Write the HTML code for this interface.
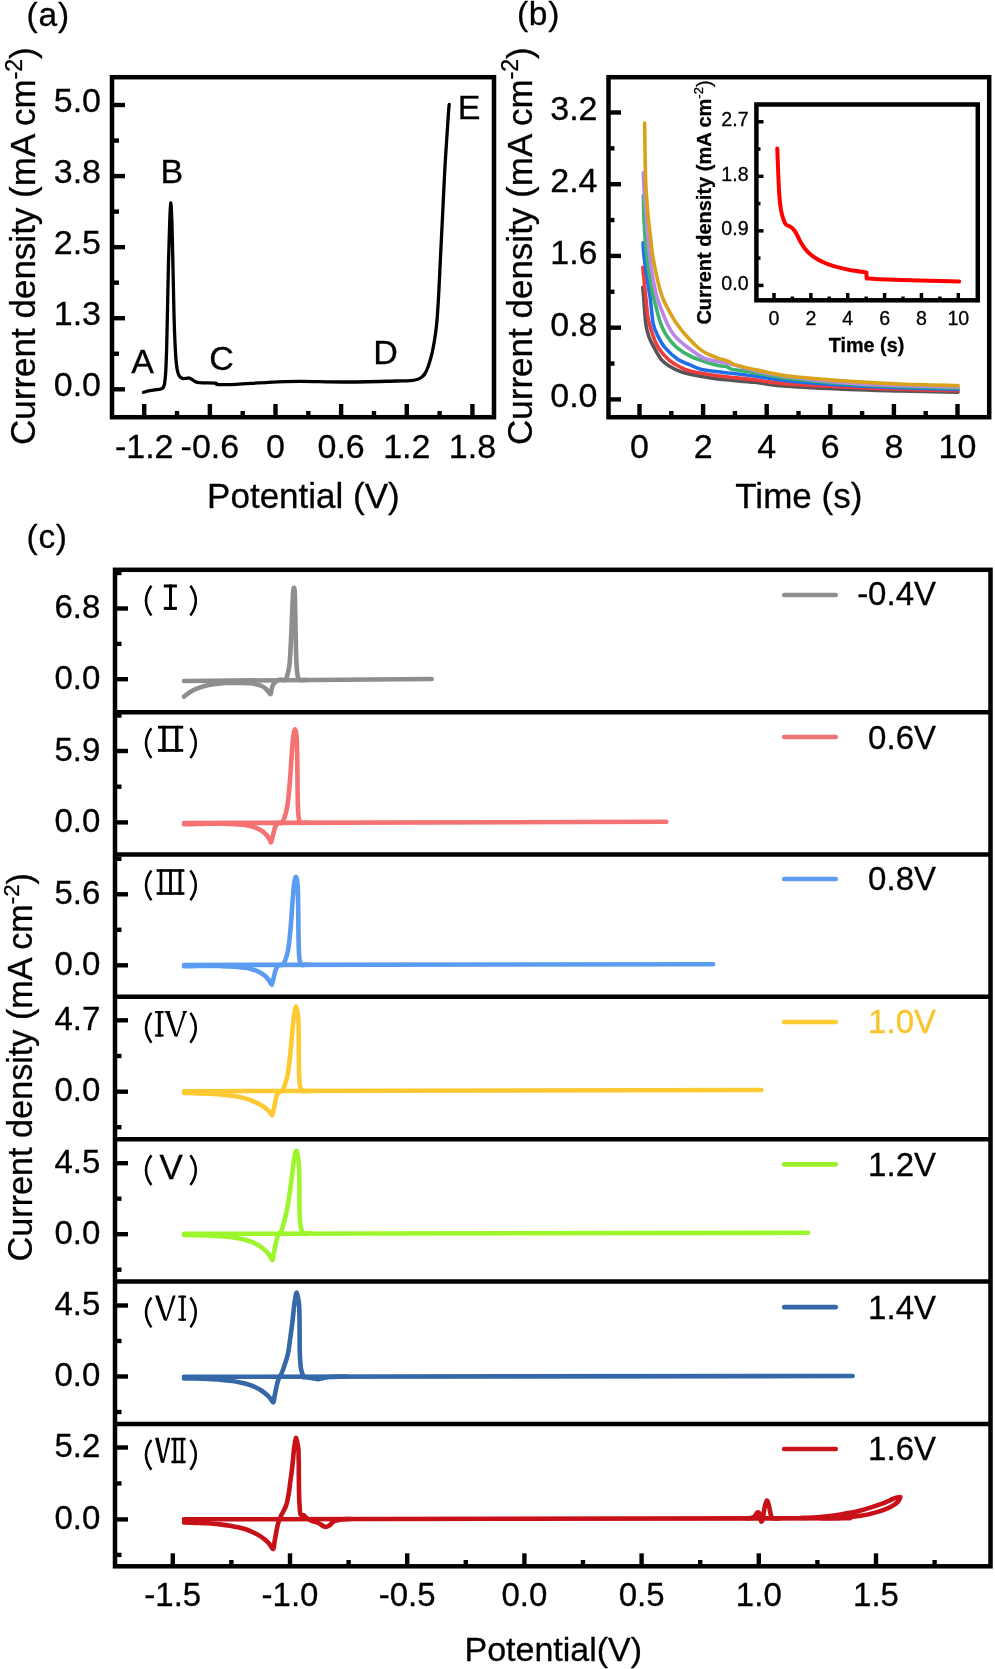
<!DOCTYPE html>
<html><head><meta charset="utf-8"><style>
html,body{margin:0;padding:0;background:#fff;overflow:hidden;}
svg{display:block;will-change:transform;}
text{-webkit-font-smoothing:antialiased;stroke:currentColor;stroke-width:0.3px;}
</style></head><body>
<svg width="995" height="1669" viewBox="0 0 995 1669">
<rect width="995" height="1669" fill="#fff"/>
<rect x="112" y="77.2" width="382" height="340.0" fill="none" stroke="#000" stroke-width="4.5"/>
<line x1="112" y1="389.30" x2="125" y2="389.30" stroke="#000" stroke-width="4.4"/>
<text x="101" y="396.20" text-anchor="end" font-family="Liberation Sans, sans-serif" font-size="34">0.0</text>
<line x1="112" y1="318.23" x2="125" y2="318.23" stroke="#000" stroke-width="4.4"/>
<text x="101" y="325.12" text-anchor="end" font-family="Liberation Sans, sans-serif" font-size="34">1.3</text>
<line x1="112" y1="247.15" x2="125" y2="247.15" stroke="#000" stroke-width="4.4"/>
<text x="101" y="254.05" text-anchor="end" font-family="Liberation Sans, sans-serif" font-size="34">2.5</text>
<line x1="112" y1="176.08" x2="125" y2="176.08" stroke="#000" stroke-width="4.4"/>
<text x="101" y="182.98" text-anchor="end" font-family="Liberation Sans, sans-serif" font-size="34">3.8</text>
<line x1="112" y1="105.00" x2="125" y2="105.00" stroke="#000" stroke-width="4.4"/>
<text x="101" y="111.90" text-anchor="end" font-family="Liberation Sans, sans-serif" font-size="34">5.0</text>
<line x1="112" y1="353.76" x2="119" y2="353.76" stroke="#000" stroke-width="4.4"/>
<line x1="112" y1="282.69" x2="119" y2="282.69" stroke="#000" stroke-width="4.4"/>
<line x1="112" y1="211.61" x2="119" y2="211.61" stroke="#000" stroke-width="4.4"/>
<line x1="112" y1="140.54" x2="119" y2="140.54" stroke="#000" stroke-width="4.4"/>
<line x1="144.22" y1="417.2" x2="144.22" y2="404" stroke="#000" stroke-width="4.4"/>
<text x="144.22" y="457.6" text-anchor="middle" font-family="Liberation Sans, sans-serif" font-size="34">-1.2</text>
<line x1="209.86" y1="417.2" x2="209.86" y2="404" stroke="#000" stroke-width="4.4"/>
<text x="209.86" y="457.6" text-anchor="middle" font-family="Liberation Sans, sans-serif" font-size="34">-0.6</text>
<line x1="275.50" y1="417.2" x2="275.50" y2="404" stroke="#000" stroke-width="4.4"/>
<text x="275.50" y="457.6" text-anchor="middle" font-family="Liberation Sans, sans-serif" font-size="34">0</text>
<line x1="341.14" y1="417.2" x2="341.14" y2="404" stroke="#000" stroke-width="4.4"/>
<text x="341.14" y="457.6" text-anchor="middle" font-family="Liberation Sans, sans-serif" font-size="34">0.6</text>
<line x1="406.78" y1="417.2" x2="406.78" y2="404" stroke="#000" stroke-width="4.4"/>
<text x="406.78" y="457.6" text-anchor="middle" font-family="Liberation Sans, sans-serif" font-size="34">1.2</text>
<line x1="472.42" y1="417.2" x2="472.42" y2="404" stroke="#000" stroke-width="4.4"/>
<text x="472.42" y="457.6" text-anchor="middle" font-family="Liberation Sans, sans-serif" font-size="34">1.8</text>
<line x1="177.04" y1="417.2" x2="177.04" y2="411" stroke="#000" stroke-width="4.4"/>
<line x1="242.68" y1="417.2" x2="242.68" y2="411" stroke="#000" stroke-width="4.4"/>
<line x1="308.32" y1="417.2" x2="308.32" y2="411" stroke="#000" stroke-width="4.4"/>
<line x1="373.96" y1="417.2" x2="373.96" y2="411" stroke="#000" stroke-width="4.4"/>
<line x1="439.60" y1="417.2" x2="439.60" y2="411" stroke="#000" stroke-width="4.4"/>
<text x="303.4" y="508.3" text-anchor="middle" font-family="Liberation Sans, sans-serif" font-size="35">Potential (V)</text>
<text transform="translate(35.4,246.1) rotate(-90)" text-anchor="middle" font-family="Liberation Sans, sans-serif" font-size="35">Current density (mA cm<tspan font-size="23" dy="-13.5">-2</tspan><tspan dy="13.5">)</tspan></text>
<text x="26.6" y="25.6" font-family="Liberation Sans, sans-serif" font-size="33.5" letter-spacing="0.75">(a)</text>
<text x="131.2" y="372.5" font-family="Liberation Sans, sans-serif" font-size="34">A</text>
<text x="160.5" y="182.7" font-family="Liberation Sans, sans-serif" font-size="34">B</text>
<text x="209.2" y="369.5" font-family="Liberation Sans, sans-serif" font-size="34">C</text>
<text x="373.2" y="364.3" font-family="Liberation Sans, sans-serif" font-size="34">D</text>
<text x="457.8" y="119.3" font-family="Liberation Sans, sans-serif" font-size="34">E</text>
<path d="M143.50,392.30 C144.52,392.03 147.35,391.15 149.60,390.70 C151.85,390.25 155.12,389.88 157.00,389.60 C158.88,389.32 159.87,389.35 160.90,389.00 C161.93,388.65 162.58,388.42 163.20,387.50 C163.82,386.58 164.18,386.05 164.60,383.50 C165.02,380.95 165.37,377.78 165.70,372.20 C166.03,366.62 166.30,360.37 166.60,350.00 C166.90,339.63 167.18,324.67 167.50,310.00 C167.82,295.33 168.15,276.17 168.50,262.00 C168.85,247.83 169.23,234.83 169.60,225.00 C169.97,215.17 170.32,203.50 170.70,203.00 C171.08,202.50 171.52,211.17 171.90,222.00 C172.28,232.83 172.65,252.50 173.00,268.00 C173.35,283.50 173.67,302.50 174.00,315.00 C174.33,327.50 174.63,335.17 175.00,343.00 C175.37,350.83 175.77,357.25 176.20,362.00 C176.63,366.75 177.05,369.13 177.60,371.50 C178.15,373.87 178.67,375.05 179.50,376.20 C180.33,377.35 181.42,378.05 182.60,378.40 C183.78,378.75 185.40,378.33 186.60,378.30 C187.80,378.27 188.45,377.70 189.80,378.20 C191.15,378.70 193.08,380.57 194.70,381.30 C196.32,382.03 196.02,382.30 199.50,382.60 C202.98,382.90 212.60,382.78 215.60,383.10 C218.60,383.42 214.02,384.30 217.50,384.50 C220.98,384.70 227.98,384.67 236.50,384.30 C245.02,383.93 258.02,382.78 268.60,382.30 C279.18,381.82 287.35,381.45 300.00,381.40 C312.65,381.35 328.37,382.07 344.50,382.00 C360.63,381.93 385.88,381.23 396.80,381.00 C407.72,380.77 406.63,380.85 410.00,380.60 C413.37,380.35 415.08,380.05 417.00,379.50 C418.92,378.95 420.17,378.30 421.50,377.30 C422.83,376.30 423.92,375.22 425.00,373.50 C426.08,371.78 427.08,369.42 428.00,367.00 C428.92,364.58 429.75,361.67 430.50,359.00 C431.25,356.33 431.88,353.83 432.50,351.00 C433.12,348.17 433.70,344.92 434.20,342.00 C434.70,339.08 435.12,336.25 435.50,333.50 C435.88,330.75 436.20,328.33 436.50,325.50 C436.80,322.67 437.05,319.75 437.30,316.50 C437.55,313.25 437.77,309.75 438.00,306.00 C438.23,302.25 438.48,298.00 438.70,294.00 C438.92,290.00 439.10,286.12 439.30,282.00 C439.50,277.88 439.58,275.80 439.90,269.30 C440.22,262.80 440.77,251.75 441.20,243.00 C441.63,234.25 442.07,225.63 442.50,216.80 C442.93,207.97 443.37,198.72 443.80,190.00 C444.23,181.28 444.60,173.17 445.10,164.50 C445.60,155.83 446.23,146.70 446.80,138.00 C447.37,129.30 448.10,117.88 448.50,112.30 C448.90,106.72 449.08,105.80 449.20,104.50" fill="none" stroke="#000" stroke-width="3.3" stroke-linejoin="round" stroke-linecap="round"/>
<rect x="608.5" y="77.2" width="380.70000000000005" height="340.0" fill="none" stroke="#000" stroke-width="4.5"/>
<line x1="608.5" y1="399.40" x2="621" y2="399.40" stroke="#000" stroke-width="4.4"/>
<text x="597.5" y="407.30" text-anchor="end" font-family="Liberation Sans, sans-serif" font-size="34">0.0</text>
<line x1="608.5" y1="327.67" x2="621" y2="327.67" stroke="#000" stroke-width="4.4"/>
<text x="597.5" y="335.57" text-anchor="end" font-family="Liberation Sans, sans-serif" font-size="34">0.8</text>
<line x1="608.5" y1="255.94" x2="621" y2="255.94" stroke="#000" stroke-width="4.4"/>
<text x="597.5" y="263.84" text-anchor="end" font-family="Liberation Sans, sans-serif" font-size="34">1.6</text>
<line x1="608.5" y1="184.22" x2="621" y2="184.22" stroke="#000" stroke-width="4.4"/>
<text x="597.5" y="192.12" text-anchor="end" font-family="Liberation Sans, sans-serif" font-size="34">2.4</text>
<line x1="608.5" y1="112.49" x2="621" y2="112.49" stroke="#000" stroke-width="4.4"/>
<text x="597.5" y="120.39" text-anchor="end" font-family="Liberation Sans, sans-serif" font-size="34">3.2</text>
<line x1="608.5" y1="363.54" x2="614.5" y2="363.54" stroke="#000" stroke-width="4.4"/>
<line x1="608.5" y1="291.81" x2="614.5" y2="291.81" stroke="#000" stroke-width="4.4"/>
<line x1="608.5" y1="220.08" x2="614.5" y2="220.08" stroke="#000" stroke-width="4.4"/>
<line x1="608.5" y1="148.35" x2="614.5" y2="148.35" stroke="#000" stroke-width="4.4"/>
<line x1="639.50" y1="417.2" x2="639.50" y2="404" stroke="#000" stroke-width="4.4"/>
<text x="639.50" y="458" text-anchor="middle" font-family="Liberation Sans, sans-serif" font-size="34">0</text>
<line x1="703.10" y1="417.2" x2="703.10" y2="404" stroke="#000" stroke-width="4.4"/>
<text x="703.10" y="458" text-anchor="middle" font-family="Liberation Sans, sans-serif" font-size="34">2</text>
<line x1="766.70" y1="417.2" x2="766.70" y2="404" stroke="#000" stroke-width="4.4"/>
<text x="766.70" y="458" text-anchor="middle" font-family="Liberation Sans, sans-serif" font-size="34">4</text>
<line x1="830.30" y1="417.2" x2="830.30" y2="404" stroke="#000" stroke-width="4.4"/>
<text x="830.30" y="458" text-anchor="middle" font-family="Liberation Sans, sans-serif" font-size="34">6</text>
<line x1="893.90" y1="417.2" x2="893.90" y2="404" stroke="#000" stroke-width="4.4"/>
<text x="893.90" y="458" text-anchor="middle" font-family="Liberation Sans, sans-serif" font-size="34">8</text>
<line x1="957.50" y1="417.2" x2="957.50" y2="404" stroke="#000" stroke-width="4.4"/>
<text x="957.50" y="458" text-anchor="middle" font-family="Liberation Sans, sans-serif" font-size="34">10</text>
<line x1="671.30" y1="417.2" x2="671.30" y2="411" stroke="#000" stroke-width="4.4"/>
<line x1="734.90" y1="417.2" x2="734.90" y2="411" stroke="#000" stroke-width="4.4"/>
<line x1="798.50" y1="417.2" x2="798.50" y2="411" stroke="#000" stroke-width="4.4"/>
<line x1="862.10" y1="417.2" x2="862.10" y2="411" stroke="#000" stroke-width="4.4"/>
<line x1="925.70" y1="417.2" x2="925.70" y2="411" stroke="#000" stroke-width="4.4"/>
<text x="798.8" y="508.3" text-anchor="middle" font-family="Liberation Sans, sans-serif" font-size="35">Time (s)</text>
<text transform="translate(531.8,246.1) rotate(-90)" text-anchor="middle" font-family="Liberation Sans, sans-serif" font-size="35">Current density (mA cm<tspan font-size="23" dy="-13.5">-2</tspan><tspan dy="13.5">)</tspan></text>
<text x="516.9" y="25.4" font-family="Liberation Sans, sans-serif" font-size="33.5" letter-spacing="0.8">(b)</text>
<path d="M642.80,287.40 C642.97,289.33 643.30,292.95 643.80,299.00 C644.30,305.05 644.93,317.37 645.80,323.70 C646.67,330.03 647.60,333.00 649.00,337.00 C650.40,341.00 652.15,343.93 654.20,347.70 C656.25,351.47 658.67,356.47 661.30,359.60 C663.93,362.73 666.80,364.50 670.00,366.50 C673.20,368.50 677.17,370.32 680.50,371.60 C683.83,372.88 683.75,372.97 690.00,374.20 C696.25,375.43 707.28,377.65 718.00,379.00 C728.72,380.35 742.88,381.08 754.30,382.30 C765.72,383.52 770.68,385.10 786.50,386.30 C802.32,387.50 830.28,388.72 849.20,389.50 C868.12,390.28 881.87,390.53 900.00,391.00 C918.13,391.47 948.33,392.08 958.00,392.30" fill="none" stroke="#555555" stroke-width="3.6" stroke-linejoin="round" stroke-linecap="round"/>
<path d="M642.80,267.40 C643.17,271.13 644.42,284.03 645.00,289.80 C645.58,295.57 645.80,297.30 646.30,302.00 C646.80,306.70 646.88,312.38 648.00,318.00 C649.12,323.62 651.27,330.75 653.00,335.70 C654.73,340.65 655.82,343.72 658.40,347.70 C660.98,351.68 664.90,356.38 668.50,359.60 C672.10,362.82 676.20,365.07 680.00,367.00 C683.80,368.93 684.97,369.73 691.30,371.20 C697.63,372.67 707.50,374.37 718.00,375.80 C728.50,377.23 742.88,378.45 754.30,379.80 C765.72,381.15 770.68,382.67 786.50,383.90 C802.32,385.13 830.28,386.30 849.20,387.20 C868.12,388.10 881.87,388.70 900.00,389.30 C918.13,389.90 948.33,390.55 958.00,390.80" fill="none" stroke="#EE3B3B" stroke-width="3.6" stroke-linejoin="round" stroke-linecap="round"/>
<path d="M643.10,242.90 C643.22,244.75 643.28,249.15 643.80,254.00 C644.32,258.85 645.35,266.03 646.20,272.00 C647.05,277.97 648.20,285.30 648.90,289.80 C649.60,294.30 649.68,293.35 650.40,299.00 C651.12,304.65 651.97,317.58 653.20,323.70 C654.43,329.82 655.83,331.70 657.80,335.70 C659.77,339.70 661.62,343.72 665.00,347.70 C668.38,351.68 673.93,356.75 678.10,359.60 C682.27,362.45 686.20,363.20 690.00,364.80 C693.80,366.40 696.23,368.03 700.90,369.20 C705.57,370.37 709.10,370.67 718.00,371.80 C726.90,372.93 742.88,374.53 754.30,376.00 C765.72,377.47 770.68,379.02 786.50,380.60 C802.32,382.18 830.28,384.30 849.20,385.50 C868.12,386.70 881.87,387.13 900.00,387.80 C918.13,388.47 948.33,389.22 958.00,389.50" fill="none" stroke="#1F6FEB" stroke-width="3.6" stroke-linejoin="round" stroke-linecap="round"/>
<path d="M643.40,195.60 C643.47,198.83 643.53,208.27 643.80,215.00 C644.07,221.73 644.55,229.50 645.00,236.00 C645.45,242.50 645.85,248.00 646.50,254.00 C647.15,260.00 648.00,266.03 648.90,272.00 C649.80,277.97 651.05,285.30 651.90,289.80 C652.75,294.30 652.53,293.35 654.00,299.00 C655.47,304.65 658.58,317.58 660.70,323.70 C662.82,329.82 664.00,331.70 666.70,335.70 C669.40,339.70 672.85,344.23 676.90,347.70 C680.95,351.17 685.48,353.90 691.00,356.50 C696.52,359.10 705.50,361.82 710.00,363.30 C714.50,364.78 715.67,364.92 718.00,365.40 C720.33,365.88 722.42,365.93 724.00,366.20 C725.58,366.47 726.33,366.53 727.50,367.00 C728.67,367.47 729.75,368.53 731.00,369.00 C732.25,369.47 731.12,369.20 735.00,369.80 C738.88,370.40 745.72,371.20 754.30,372.60 C762.88,374.00 770.68,376.30 786.50,378.20 C802.32,380.10 830.28,382.62 849.20,384.00 C868.12,385.38 881.87,385.80 900.00,386.50 C918.13,387.20 948.33,387.92 958.00,388.20" fill="none" stroke="#3DB36B" stroke-width="3.6" stroke-linejoin="round" stroke-linecap="round"/>
<path d="M643.40,172.90 C643.50,175.42 643.73,183.48 644.00,188.00 C644.27,192.52 644.50,193.50 645.00,200.00 C645.50,206.50 646.25,218.00 647.00,227.00 C647.75,236.00 648.68,246.50 649.50,254.00 C650.32,261.50 650.95,266.03 651.90,272.00 C652.85,277.97 654.22,285.17 655.20,289.80 C656.18,294.43 655.78,294.15 657.80,299.80 C659.82,305.45 664.52,317.72 667.30,323.70 C670.08,329.68 671.30,331.90 674.50,335.70 C677.70,339.50 681.50,342.70 686.50,346.50 C691.50,350.30 699.25,356.02 704.50,358.50 C709.75,360.98 713.98,360.57 718.00,361.40 C722.02,362.23 724.93,362.65 728.60,363.50 C732.27,364.35 735.72,365.33 740.00,366.50 C744.28,367.67 746.55,368.83 754.30,370.50 C762.05,372.17 770.68,374.38 786.50,376.50 C802.32,378.62 830.28,381.70 849.20,383.20 C868.12,384.70 881.87,384.87 900.00,385.50 C918.13,386.13 948.33,386.75 958.00,387.00" fill="none" stroke="#B987E8" stroke-width="3.6" stroke-linejoin="round" stroke-linecap="round"/>
<path d="M644.60,123.00 C644.67,127.50 644.83,140.50 645.00,150.00 C645.17,159.50 645.30,171.67 645.60,180.00 C645.90,188.33 646.35,193.67 646.80,200.00 C647.25,206.33 647.70,212.00 648.30,218.00 C648.90,224.00 649.70,230.00 650.40,236.00 C651.10,242.00 651.60,248.00 652.50,254.00 C653.40,260.00 654.55,266.03 655.80,272.00 C657.05,277.97 658.72,285.13 660.00,289.80 C661.28,294.47 661.88,296.30 663.50,300.00 C665.12,303.70 667.47,308.00 669.70,312.00 C671.93,316.00 674.10,320.00 676.90,324.00 C679.70,328.00 682.90,332.00 686.50,336.00 C690.10,340.00 695.10,345.05 698.50,348.00 C701.90,350.95 703.65,352.02 706.90,353.70 C710.15,355.38 715.48,357.17 718.00,358.10 C720.52,359.03 720.23,358.75 722.00,359.30 C723.77,359.85 726.43,360.52 728.60,361.40 C730.77,362.28 730.72,363.27 735.00,364.60 C739.28,365.93 745.72,367.53 754.30,369.40 C762.88,371.27 775.55,374.20 786.50,375.80 C797.45,377.40 809.55,378.07 820.00,379.00 C830.45,379.93 835.87,380.57 849.20,381.40 C862.53,382.23 881.87,383.30 900.00,384.00 C918.13,384.70 948.33,385.33 958.00,385.60" fill="none" stroke="#D9A21B" stroke-width="3.6" stroke-linejoin="round" stroke-linecap="round"/>
<rect x="756.4" y="104.5" width="221.39999999999998" height="195.8" fill="#fff" stroke="#000" stroke-width="4.5"/>
<line x1="756.4" y1="285.40" x2="763.5" y2="285.40" stroke="#000" stroke-width="3.5"/>
<text x="748.6" y="290.00" text-anchor="end" font-family="Liberation Sans, sans-serif" font-size="19.6">0.0</text>
<line x1="756.4" y1="230.86" x2="763.5" y2="230.86" stroke="#000" stroke-width="3.5"/>
<text x="748.6" y="235.46" text-anchor="end" font-family="Liberation Sans, sans-serif" font-size="19.6">0.9</text>
<line x1="756.4" y1="176.32" x2="763.5" y2="176.32" stroke="#000" stroke-width="3.5"/>
<text x="748.6" y="180.92" text-anchor="end" font-family="Liberation Sans, sans-serif" font-size="19.6">1.8</text>
<line x1="756.4" y1="121.78" x2="763.5" y2="121.78" stroke="#000" stroke-width="3.5"/>
<text x="748.6" y="126.38" text-anchor="end" font-family="Liberation Sans, sans-serif" font-size="19.6">2.7</text>
<line x1="756.4" y1="258.13" x2="760.5" y2="258.13" stroke="#000" stroke-width="3.5"/>
<line x1="756.4" y1="203.59" x2="760.5" y2="203.59" stroke="#000" stroke-width="3.5"/>
<line x1="756.4" y1="149.05" x2="760.5" y2="149.05" stroke="#000" stroke-width="3.5"/>
<line x1="774.00" y1="300.3" x2="774.00" y2="293" stroke="#000" stroke-width="3.5"/>
<text x="774.00" y="324.6" text-anchor="middle" font-family="Liberation Sans, sans-serif" font-size="19.6">0</text>
<line x1="810.86" y1="300.3" x2="810.86" y2="293" stroke="#000" stroke-width="3.5"/>
<text x="810.86" y="324.6" text-anchor="middle" font-family="Liberation Sans, sans-serif" font-size="19.6">2</text>
<line x1="847.72" y1="300.3" x2="847.72" y2="293" stroke="#000" stroke-width="3.5"/>
<text x="847.72" y="324.6" text-anchor="middle" font-family="Liberation Sans, sans-serif" font-size="19.6">4</text>
<line x1="884.58" y1="300.3" x2="884.58" y2="293" stroke="#000" stroke-width="3.5"/>
<text x="884.58" y="324.6" text-anchor="middle" font-family="Liberation Sans, sans-serif" font-size="19.6">6</text>
<line x1="921.44" y1="300.3" x2="921.44" y2="293" stroke="#000" stroke-width="3.5"/>
<text x="921.44" y="324.6" text-anchor="middle" font-family="Liberation Sans, sans-serif" font-size="19.6">8</text>
<line x1="958.30" y1="300.3" x2="958.30" y2="293" stroke="#000" stroke-width="3.5"/>
<text x="958.30" y="324.6" text-anchor="middle" font-family="Liberation Sans, sans-serif" font-size="19.6">10</text>
<line x1="792.43" y1="300.3" x2="792.43" y2="296.5" stroke="#000" stroke-width="3.5"/>
<line x1="829.29" y1="300.3" x2="829.29" y2="296.5" stroke="#000" stroke-width="3.5"/>
<line x1="866.15" y1="300.3" x2="866.15" y2="296.5" stroke="#000" stroke-width="3.5"/>
<line x1="903.01" y1="300.3" x2="903.01" y2="296.5" stroke="#000" stroke-width="3.5"/>
<line x1="939.87" y1="300.3" x2="939.87" y2="296.5" stroke="#000" stroke-width="3.5"/>
<text x="866.5" y="352.4" text-anchor="middle" font-family="Liberation Sans, sans-serif" font-size="19.8" font-weight="bold">Time (s)</text>
<text transform="translate(710.6,202.5) rotate(-90)" text-anchor="middle" font-family="Liberation Sans, sans-serif" font-size="20" font-weight="bold">Current density (mA cm<tspan font-size="13" font-weight="normal" dy="-7.5">-2</tspan><tspan dy="7.5" font-weight="normal">)</tspan></text>
<path d="M777.30,148.50 C777.47,152.92 777.97,167.25 778.30,175.00 C778.63,182.75 778.85,189.17 779.30,195.00 C779.75,200.83 780.30,205.90 781.00,210.00 C781.70,214.10 782.68,217.18 783.50,219.60 C784.32,222.02 784.98,223.43 785.90,224.50 C786.82,225.57 788.07,225.50 789.00,226.00 C789.93,226.50 790.67,226.83 791.50,227.50 C792.33,228.17 793.08,228.80 794.00,230.00 C794.92,231.20 796.00,232.87 797.00,234.70 C798.00,236.53 798.73,238.73 800.00,241.00 C801.27,243.27 802.93,246.13 804.60,248.30 C806.27,250.47 808.00,252.25 810.00,254.00 C812.00,255.75 814.10,257.30 816.60,258.80 C819.10,260.30 821.98,261.73 825.00,263.00 C828.02,264.27 830.53,265.23 834.70,266.40 C838.87,267.57 844.72,269.00 850.00,270.00 C855.28,271.00 863.67,272.00 866.40,272.40 L866.6,278.4 866.60,278.40 C868.83,278.53 874.27,278.93 880.00,279.20 C885.73,279.47 892.67,279.73 901.00,280.00 C909.33,280.27 920.30,280.57 930.00,280.80 C939.70,281.03 954.33,281.30 959.20,281.40" fill="none" stroke="#FF0000" stroke-width="4.0" stroke-linejoin="round" stroke-linecap="round"/>
<text x="26.6" y="548.2" font-family="Liberation Sans, sans-serif" font-size="33.5" letter-spacing="0.65">(c)</text>
<line x1="115" y1="608.50" x2="128" y2="608.50" stroke="#000" stroke-width="4.4"/>
<line x1="115" y1="679.20" x2="128" y2="679.20" stroke="#000" stroke-width="4.4"/>
<line x1="115" y1="573.00" x2="121.5" y2="573.00" stroke="#000" stroke-width="4.4"/>
<line x1="115" y1="643.85" x2="121.5" y2="643.85" stroke="#000" stroke-width="4.4"/>
<text x="100.4" y="618.00" text-anchor="end" font-family="Liberation Sans, sans-serif" font-size="33">6.8</text>
<text x="100.4" y="688.70" text-anchor="end" font-family="Liberation Sans, sans-serif" font-size="33">0.0</text>
<line x1="784.2" y1="595" x2="835.7" y2="595" stroke="#8F8F8F" stroke-width="4.7" stroke-linecap="round"/>
<text x="936" y="604.9" text-anchor="end" font-family="Liberation Sans, sans-serif" font-size="33" fill="#000" style="color:#000">-0.4V</text>
<line x1="115" y1="751.00" x2="128" y2="751.00" stroke="#000" stroke-width="4.4"/>
<line x1="115" y1="822.40" x2="128" y2="822.40" stroke="#000" stroke-width="4.4"/>
<line x1="115" y1="715.50" x2="121.5" y2="715.50" stroke="#000" stroke-width="4.4"/>
<line x1="115" y1="786.70" x2="121.5" y2="786.70" stroke="#000" stroke-width="4.4"/>
<text x="100.4" y="760.50" text-anchor="end" font-family="Liberation Sans, sans-serif" font-size="33">5.9</text>
<text x="100.4" y="831.90" text-anchor="end" font-family="Liberation Sans, sans-serif" font-size="33">0.0</text>
<line x1="784.2" y1="737" x2="835.7" y2="737" stroke="#F07272" stroke-width="4.7" stroke-linecap="round"/>
<text x="936" y="748.6" text-anchor="end" font-family="Liberation Sans, sans-serif" font-size="33" fill="#000" style="color:#000">0.6V</text>
<line x1="115" y1="894.30" x2="128" y2="894.30" stroke="#000" stroke-width="4.4"/>
<line x1="115" y1="965.30" x2="128" y2="965.30" stroke="#000" stroke-width="4.4"/>
<line x1="115" y1="858.80" x2="121.5" y2="858.80" stroke="#000" stroke-width="4.4"/>
<line x1="115" y1="929.80" x2="121.5" y2="929.80" stroke="#000" stroke-width="4.4"/>
<text x="100.4" y="903.80" text-anchor="end" font-family="Liberation Sans, sans-serif" font-size="33">5.6</text>
<text x="100.4" y="974.80" text-anchor="end" font-family="Liberation Sans, sans-serif" font-size="33">0.0</text>
<line x1="784.2" y1="879" x2="835.7" y2="879" stroke="#5B9CF2" stroke-width="4.7" stroke-linecap="round"/>
<text x="936" y="890.4" text-anchor="end" font-family="Liberation Sans, sans-serif" font-size="33" fill="#000" style="color:#000">0.8V</text>
<line x1="115" y1="1020.30" x2="128" y2="1020.30" stroke="#000" stroke-width="4.4"/>
<line x1="115" y1="1091.70" x2="128" y2="1091.70" stroke="#000" stroke-width="4.4"/>
<line x1="115" y1="1056.00" x2="121.5" y2="1056.00" stroke="#000" stroke-width="4.4"/>
<line x1="115" y1="1127.20" x2="121.5" y2="1127.20" stroke="#000" stroke-width="4.4"/>
<text x="100.4" y="1029.80" text-anchor="end" font-family="Liberation Sans, sans-serif" font-size="33">4.7</text>
<text x="100.4" y="1101.20" text-anchor="end" font-family="Liberation Sans, sans-serif" font-size="33">0.0</text>
<line x1="784.2" y1="1022" x2="835.7" y2="1022" stroke="#FFCC33" stroke-width="4.7" stroke-linecap="round"/>
<text x="936" y="1033.4" text-anchor="end" font-family="Liberation Sans, sans-serif" font-size="33" fill="#F7C52B" style="color:#F7C52B">1.0V</text>
<line x1="115" y1="1163.20" x2="128" y2="1163.20" stroke="#000" stroke-width="4.4"/>
<line x1="115" y1="1234.20" x2="128" y2="1234.20" stroke="#000" stroke-width="4.4"/>
<line x1="115" y1="1198.70" x2="121.5" y2="1198.70" stroke="#000" stroke-width="4.4"/>
<line x1="115" y1="1269.70" x2="121.5" y2="1269.70" stroke="#000" stroke-width="4.4"/>
<text x="100.4" y="1172.70" text-anchor="end" font-family="Liberation Sans, sans-serif" font-size="33">4.5</text>
<text x="100.4" y="1243.70" text-anchor="end" font-family="Liberation Sans, sans-serif" font-size="33">0.0</text>
<line x1="784.2" y1="1164.4" x2="835.7" y2="1164.4" stroke="#9CF22A" stroke-width="4.7" stroke-linecap="round"/>
<text x="936" y="1176.4" text-anchor="end" font-family="Liberation Sans, sans-serif" font-size="33" fill="#000" style="color:#000">1.2V</text>
<line x1="115" y1="1305.50" x2="128" y2="1305.50" stroke="#000" stroke-width="4.4"/>
<line x1="115" y1="1376.50" x2="128" y2="1376.50" stroke="#000" stroke-width="4.4"/>
<line x1="115" y1="1341.00" x2="121.5" y2="1341.00" stroke="#000" stroke-width="4.4"/>
<line x1="115" y1="1412.00" x2="121.5" y2="1412.00" stroke="#000" stroke-width="4.4"/>
<text x="100.4" y="1315.00" text-anchor="end" font-family="Liberation Sans, sans-serif" font-size="33">4.5</text>
<text x="100.4" y="1386.00" text-anchor="end" font-family="Liberation Sans, sans-serif" font-size="33">0.0</text>
<line x1="784.2" y1="1307.2" x2="835.7" y2="1307.2" stroke="#3468A8" stroke-width="4.7" stroke-linecap="round"/>
<text x="936" y="1318.6" text-anchor="end" font-family="Liberation Sans, sans-serif" font-size="33" fill="#000" style="color:#000">1.4V</text>
<line x1="115" y1="1447.50" x2="128" y2="1447.50" stroke="#000" stroke-width="4.4"/>
<line x1="115" y1="1519.40" x2="128" y2="1519.40" stroke="#000" stroke-width="4.4"/>
<line x1="115" y1="1483.45" x2="121.5" y2="1483.45" stroke="#000" stroke-width="4.4"/>
<line x1="115" y1="1554.90" x2="121.5" y2="1554.90" stroke="#000" stroke-width="4.4"/>
<text x="100.4" y="1457.00" text-anchor="end" font-family="Liberation Sans, sans-serif" font-size="33">5.2</text>
<text x="100.4" y="1528.90" text-anchor="end" font-family="Liberation Sans, sans-serif" font-size="33">0.0</text>
<line x1="784.2" y1="1449" x2="835.7" y2="1449" stroke="#C8141E" stroke-width="4.7" stroke-linecap="round"/>
<text x="936" y="1460.0" text-anchor="end" font-family="Liberation Sans, sans-serif" font-size="33" fill="#000" style="color:#000">1.6V</text>
<rect x="115" y="569.8" width="875.5" height="996.5" fill="none" stroke="#000" stroke-width="4.5"/>
<line x1="115" y1="712.16" x2="990.5" y2="712.16" stroke="#000" stroke-width="4.5"/>
<line x1="115" y1="854.51" x2="990.5" y2="854.51" stroke="#000" stroke-width="4.5"/>
<line x1="115" y1="996.87" x2="990.5" y2="996.87" stroke="#000" stroke-width="4.5"/>
<line x1="115" y1="1139.23" x2="990.5" y2="1139.23" stroke="#000" stroke-width="4.5"/>
<line x1="115" y1="1281.59" x2="990.5" y2="1281.59" stroke="#000" stroke-width="4.5"/>
<line x1="115" y1="1423.94" x2="990.5" y2="1423.94" stroke="#000" stroke-width="4.5"/>
<line x1="172.80" y1="1566.3" x2="172.80" y2="1553.3" stroke="#000" stroke-width="4.4"/>
<text x="172.80" y="1606" text-anchor="middle" font-family="Liberation Sans, sans-serif" font-size="33">-1.5</text>
<line x1="290.00" y1="1566.3" x2="290.00" y2="1553.3" stroke="#000" stroke-width="4.4"/>
<text x="290.00" y="1606" text-anchor="middle" font-family="Liberation Sans, sans-serif" font-size="33">-1.0</text>
<line x1="407.20" y1="1566.3" x2="407.20" y2="1553.3" stroke="#000" stroke-width="4.4"/>
<text x="407.20" y="1606" text-anchor="middle" font-family="Liberation Sans, sans-serif" font-size="33">-0.5</text>
<line x1="524.40" y1="1566.3" x2="524.40" y2="1553.3" stroke="#000" stroke-width="4.4"/>
<text x="524.40" y="1606" text-anchor="middle" font-family="Liberation Sans, sans-serif" font-size="33">0.0</text>
<line x1="641.60" y1="1566.3" x2="641.60" y2="1553.3" stroke="#000" stroke-width="4.4"/>
<text x="641.60" y="1606" text-anchor="middle" font-family="Liberation Sans, sans-serif" font-size="33">0.5</text>
<line x1="758.80" y1="1566.3" x2="758.80" y2="1553.3" stroke="#000" stroke-width="4.4"/>
<text x="758.80" y="1606" text-anchor="middle" font-family="Liberation Sans, sans-serif" font-size="33">1.0</text>
<line x1="876.00" y1="1566.3" x2="876.00" y2="1553.3" stroke="#000" stroke-width="4.4"/>
<text x="876.00" y="1606" text-anchor="middle" font-family="Liberation Sans, sans-serif" font-size="33">1.5</text>
<line x1="231.40" y1="1566.3" x2="231.40" y2="1560" stroke="#000" stroke-width="4.4"/>
<line x1="348.60" y1="1566.3" x2="348.60" y2="1560" stroke="#000" stroke-width="4.4"/>
<line x1="465.80" y1="1566.3" x2="465.80" y2="1560" stroke="#000" stroke-width="4.4"/>
<line x1="583.00" y1="1566.3" x2="583.00" y2="1560" stroke="#000" stroke-width="4.4"/>
<line x1="700.20" y1="1566.3" x2="700.20" y2="1560" stroke="#000" stroke-width="4.4"/>
<line x1="817.40" y1="1566.3" x2="817.40" y2="1560" stroke="#000" stroke-width="4.4"/>
<line x1="934.60" y1="1566.3" x2="934.60" y2="1560" stroke="#000" stroke-width="4.4"/>
<text x="553.3" y="1661" text-anchor="middle" font-family="Liberation Sans, sans-serif" font-size="34">Potential(V)</text>
<text transform="translate(31.8,1067.2) rotate(-90)" text-anchor="middle" font-family="Liberation Sans, sans-serif" font-size="34.2">Current density (mA cm<tspan font-size="22.3" dy="-13">-2</tspan><tspan dy="13">)</tspan></text>
<path d="M151.4,585.80 Q140.6,600.70 151.4,615.60" fill="none" stroke="#000" stroke-width="2.5"/>
<path d="M190.4,585.80 Q201.2,600.70 190.4,615.60" fill="none" stroke="#000" stroke-width="2.5"/>
<path d="M151.4,728.16 Q140.6,743.06 151.4,757.96" fill="none" stroke="#000" stroke-width="2.5"/>
<path d="M190.4,728.16 Q201.2,743.06 190.4,757.96" fill="none" stroke="#000" stroke-width="2.5"/>
<path d="M151.4,870.51 Q140.6,885.41 151.4,900.31" fill="none" stroke="#000" stroke-width="2.5"/>
<path d="M190.4,870.51 Q201.2,885.41 190.4,900.31" fill="none" stroke="#000" stroke-width="2.5"/>
<path d="M151.4,1012.87 Q140.6,1027.77 151.4,1042.67" fill="none" stroke="#000" stroke-width="2.5"/>
<path d="M190.4,1012.87 Q201.2,1027.77 190.4,1042.67" fill="none" stroke="#000" stroke-width="2.5"/>
<path d="M151.4,1155.23 Q140.6,1170.13 151.4,1185.03" fill="none" stroke="#000" stroke-width="2.5"/>
<path d="M190.4,1155.23 Q201.2,1170.13 190.4,1185.03" fill="none" stroke="#000" stroke-width="2.5"/>
<path d="M151.4,1297.59 Q140.6,1312.49 151.4,1327.39" fill="none" stroke="#000" stroke-width="2.5"/>
<path d="M190.4,1297.59 Q201.2,1312.49 190.4,1327.39" fill="none" stroke="#000" stroke-width="2.5"/>
<path d="M151.4,1439.94 Q140.6,1454.84 151.4,1469.74" fill="none" stroke="#000" stroke-width="2.5"/>
<path d="M190.4,1439.94 Q201.2,1454.84 190.4,1469.74" fill="none" stroke="#000" stroke-width="2.5"/>
<rect x="163.80" y="584.50" width="13.10" height="3.00" fill="#000"/>
<rect x="163.80" y="606.90" width="13.10" height="3.00" fill="#000"/>
<rect x="169.00" y="584.50" width="3.00" height="25.40" fill="#000"/>
<rect x="158.00" y="725.80" width="25.20" height="2.80" fill="#000"/>
<rect x="158.00" y="749.00" width="25.20" height="2.80" fill="#000"/>
<rect x="162.30" y="725.80" width="3.40" height="26.00" fill="#000"/>
<rect x="175.10" y="725.80" width="3.40" height="26.00" fill="#000"/>
<rect x="156.60" y="869.20" width="27.80" height="2.60" fill="#000"/>
<rect x="156.60" y="892.20" width="27.80" height="2.60" fill="#000"/>
<rect x="159.60" y="869.20" width="2.70" height="25.60" fill="#000"/>
<rect x="169.10" y="869.20" width="2.80" height="25.60" fill="#000"/>
<rect x="178.50" y="869.20" width="2.90" height="25.60" fill="#000"/>
<rect x="155.10" y="1011.00" width="8.40" height="2.20" fill="#000"/>
<rect x="155.10" y="1034.40" width="8.40" height="2.20" fill="#000"/>
<rect x="157.80" y="1011.00" width="3.00" height="25.60" fill="#000"/>
<polygon points="165.40,1011.00 169.20,1011.00 177.40,1036.60 174.60,1036.60" fill="#000"/>
<polygon points="183.80,1011.00 186.30,1011.00 177.40,1036.60 176.00,1036.60" fill="#000"/>
<rect x="164.6" y="1011" width="5.5" height="1.6" fill="#000"/>
<rect x="182.6" y="1011" width="4.3" height="1.6" fill="#000"/>
<text x="159.6" y="1179.2" font-family="Liberation Sans, sans-serif" font-size="35">V</text>
<polygon points="155.10,1295.40 158.80,1295.40 167.00,1320.60 164.00,1320.60" fill="#000"/>
<polygon points="172.80,1295.40 175.70,1295.40 167.00,1320.60 165.50,1320.60" fill="#000"/>
<rect x="178.30" y="1295.60" width="7.70" height="2.10" fill="#000"/>
<rect x="178.30" y="1318.60" width="7.70" height="2.10" fill="#000"/>
<rect x="181.20" y="1295.60" width="2.60" height="25.10" fill="#000"/>
<polygon points="155.10,1437.80 158.60,1437.80 164.00,1462.80 161.00,1462.80" fill="#000"/>
<polygon points="167.70,1437.80 170.30,1437.80 164.00,1462.80 162.50,1462.80" fill="#000"/>
<rect x="171.40" y="1437.80" width="14.20" height="2.60" fill="#000"/>
<rect x="171.40" y="1460.60" width="14.20" height="2.60" fill="#000"/>
<rect x="173.60" y="1437.80" width="2.60" height="25.40" fill="#000"/>
<rect x="180.80" y="1437.80" width="2.50" height="25.40" fill="#000"/>
<path d="M184,681.00 L431.70,679.00" fill="none" stroke="#8E8E8E" stroke-width="4.6" stroke-linecap="round"/>
<path d="M184.00,696.60 C185.17,695.75 188.67,692.90 191.00,691.50 C193.33,690.10 194.83,689.32 198.00,688.20 C201.17,687.08 205.28,685.67 210.00,684.80 C214.72,683.93 221.30,683.30 226.30,683.00 C231.30,682.70 236.05,682.95 240.00,683.00 C243.95,683.05 247.33,683.08 250.00,683.30 C252.67,683.52 254.05,683.85 256.00,684.30 C257.95,684.75 260.12,685.30 261.70,686.00 C263.28,686.70 264.37,687.53 265.50,688.50 C266.63,689.47 267.65,690.87 268.50,691.80 C269.35,692.73 270.02,694.78 270.60,694.10 C271.18,693.42 271.53,689.34 272.00,687.71 C272.47,686.09 272.65,685.46 273.40,684.33 C274.15,683.20 275.22,681.73 276.50,680.93 C277.78,680.13 279.68,679.66 281.10,679.54 C282.52,679.42 284.02,680.70 285.00,680.18 C285.98,679.67 286.27,678.91 287.00,676.48 C287.73,674.04 288.78,670.65 289.40,665.57 C290.02,660.48 290.25,654.48 290.70,645.99 C291.15,637.49 291.73,623.06 292.10,614.59 C292.47,606.13 292.67,599.44 292.90,595.20 C293.13,590.97 293.32,590.43 293.50,589.20 C293.68,587.97 293.83,587.81 294.00,587.81 C294.17,587.81 294.35,587.96 294.50,589.19 C294.65,590.42 294.77,590.96 294.90,595.19 C295.03,599.42 295.13,606.11 295.30,614.57 C295.47,623.03 295.68,637.46 295.90,645.95 C296.12,654.44 296.28,660.43 296.60,665.51 C296.92,670.58 297.23,673.96 297.80,676.39 C298.37,678.82 299.13,679.46 300.00,680.06 C300.87,680.67 301.67,680.05 303.00,680.04 C304.33,680.03 307.17,680.01 308.00,680.00" fill="none" stroke="#8E8E8E" stroke-width="4.6" stroke-linejoin="round" stroke-linecap="round"/>
<path d="M184,823.00 L666.30,821.80" fill="none" stroke="#F47272" stroke-width="4.6" stroke-linecap="round"/>
<path d="M184.00,824.20 C186.00,824.17 192.00,824.07 196.00,824.00 C200.00,823.94 204.00,823.85 208.00,823.81 C212.00,823.76 216.33,823.71 220.00,823.74 C223.67,823.76 227.00,823.87 230.00,823.98 C233.00,824.09 235.50,824.24 238.00,824.42 C240.50,824.60 242.83,824.74 245.00,825.05 C247.17,825.35 249.17,825.80 251.00,826.25 C252.83,826.70 254.42,827.15 256.00,827.77 C257.58,828.39 259.08,829.10 260.50,829.97 C261.92,830.85 263.33,831.95 264.50,833.00 C265.67,834.04 266.58,835.02 267.50,836.25 C268.42,837.47 269.42,839.34 270.00,840.35 C270.58,841.36 270.63,842.61 271.00,842.28 C271.37,841.96 271.80,839.81 272.20,838.38 C272.60,836.95 273.02,835.23 273.40,833.70 C273.78,832.17 274.12,830.51 274.50,829.21 C274.88,827.91 275.23,826.77 275.70,825.89 C276.17,825.01 276.65,824.46 277.30,823.94 C277.95,823.42 278.90,822.96 279.60,822.76 C280.30,822.57 280.72,823.54 281.50,822.76 C282.28,821.98 283.32,820.89 284.30,818.09 C285.28,815.28 286.48,811.86 287.40,805.95 C288.32,800.04 289.13,790.39 289.80,782.62 C290.47,774.84 290.88,766.44 291.40,759.29 C291.92,752.13 292.47,744.20 292.90,739.69 C293.33,735.18 293.65,733.94 294.00,732.23 C294.35,730.51 294.67,729.42 295.00,729.42 C295.33,729.42 295.70,730.51 296.00,732.22 C296.30,733.93 296.58,735.17 296.80,739.68 C297.02,744.19 297.18,752.12 297.30,759.27 C297.42,766.43 297.40,774.82 297.50,782.60 C297.60,790.37 297.68,800.01 297.90,805.92 C298.12,811.83 298.35,815.25 298.80,818.05 C299.25,820.85 299.80,821.93 300.60,822.71 C301.40,823.49 302.27,822.71 303.60,822.70 C304.93,822.70 307.77,822.69 308.60,822.69" fill="none" stroke="#F47272" stroke-width="4.6" stroke-linejoin="round" stroke-linecap="round"/>
<path d="M184,965.00 L713.00,964.20" fill="none" stroke="#5C9CF0" stroke-width="4.6" stroke-linecap="round"/>
<path d="M184.00,966.20 C186.00,966.17 192.00,966.08 196.00,966.02 C200.00,965.96 204.00,965.83 208.00,965.84 C212.00,965.84 216.33,965.97 220.00,966.05 C223.67,966.14 227.00,966.20 230.00,966.35 C233.00,966.49 235.50,966.67 238.00,966.92 C240.50,967.17 242.83,967.49 245.00,967.84 C247.17,968.20 249.17,968.58 251.00,969.05 C252.83,969.51 254.42,970.01 256.00,970.63 C257.58,971.26 259.08,971.97 260.50,972.80 C261.92,973.62 263.33,974.63 264.50,975.57 C265.67,976.52 266.58,977.40 267.50,978.46 C268.42,979.52 269.30,980.89 270.00,981.94 C270.70,982.99 271.22,984.96 271.70,984.77 C272.18,984.58 272.50,982.25 272.90,980.79 C273.30,979.33 273.72,977.57 274.10,976.01 C274.48,974.45 274.82,972.76 275.20,971.43 C275.58,970.10 275.93,968.94 276.40,968.04 C276.87,967.15 277.35,966.58 278.00,966.05 C278.65,965.52 279.57,965.05 280.30,964.85 C281.03,964.65 281.58,965.59 282.40,964.85 C283.22,964.12 284.22,963.09 285.20,960.45 C286.18,957.81 287.38,954.58 288.30,949.00 C289.22,943.43 290.03,934.33 290.70,927.00 C291.37,919.66 291.78,911.74 292.30,905.00 C292.82,898.25 293.37,890.77 293.80,886.51 C294.23,882.26 294.55,881.09 294.90,879.47 C295.25,877.86 295.57,876.83 295.90,876.83 C296.23,876.83 296.60,877.86 296.90,879.47 C297.20,881.08 297.48,882.26 297.70,886.51 C297.92,890.76 298.08,898.24 298.20,904.99 C298.32,911.73 298.30,919.65 298.40,926.99 C298.50,934.32 298.58,943.41 298.80,948.99 C299.02,954.56 299.25,957.79 299.70,960.43 C300.15,963.06 300.70,964.09 301.50,964.82 C302.30,965.55 303.17,964.82 304.50,964.82 C305.83,964.82 308.67,964.81 309.50,964.81" fill="none" stroke="#5C9CF0" stroke-width="4.6" stroke-linejoin="round" stroke-linecap="round"/>
<path d="M184,1091.20 L761.30,1090.00" fill="none" stroke="#FFC933" stroke-width="4.6" stroke-linecap="round"/>
<path d="M184.00,1092.99 C186.00,1093.01 192.00,1093.02 196.00,1093.13 C200.00,1093.24 204.00,1093.45 208.00,1093.65 C212.00,1093.86 216.33,1094.05 220.00,1094.36 C223.67,1094.67 227.00,1095.09 230.00,1095.50 C233.00,1095.90 235.50,1096.30 238.00,1096.77 C240.50,1097.25 242.83,1097.77 245.00,1098.35 C247.17,1098.94 249.17,1099.61 251.00,1100.28 C252.83,1100.96 254.42,1101.68 256.00,1102.43 C257.58,1103.17 259.08,1103.92 260.50,1104.74 C261.92,1105.57 263.33,1106.53 264.50,1107.39 C265.67,1108.26 266.58,1109.07 267.50,1109.94 C268.42,1110.80 269.20,1111.70 270.00,1112.58 C270.80,1113.46 271.72,1115.58 272.30,1115.22 C272.88,1114.85 273.10,1112.15 273.50,1110.37 C273.90,1108.60 274.32,1106.46 274.70,1104.56 C275.08,1102.67 275.42,1100.61 275.80,1099.00 C276.18,1097.38 276.53,1095.97 277.00,1094.88 C277.47,1093.79 277.95,1093.10 278.60,1092.46 C279.25,1091.81 280.33,1091.24 280.90,1091.00 C281.47,1090.76 281.40,1091.84 282.00,1091.00 C282.60,1090.15 283.53,1088.75 284.50,1085.93 C285.47,1083.12 286.85,1079.32 287.80,1074.12 C288.75,1068.92 289.50,1061.19 290.20,1054.73 C290.90,1048.27 291.43,1041.38 292.00,1035.34 C292.57,1029.29 293.10,1022.69 293.60,1018.47 C294.10,1014.26 294.60,1012.01 295.00,1010.04 C295.40,1008.07 295.65,1006.67 296.00,1006.67 C296.35,1006.67 296.72,1008.07 297.10,1010.04 C297.48,1012.00 298.03,1014.25 298.30,1018.46 C298.57,1022.68 298.62,1029.28 298.70,1035.32 C298.78,1041.36 298.73,1048.25 298.80,1054.71 C298.87,1061.18 298.90,1068.90 299.10,1074.10 C299.30,1079.30 299.45,1083.09 300.00,1085.90 C300.55,1088.71 301.50,1090.11 302.40,1090.95 C303.30,1091.80 304.07,1090.95 305.40,1090.95 C306.73,1090.94 309.57,1090.94 310.40,1090.94" fill="none" stroke="#FFC933" stroke-width="4.6" stroke-linejoin="round" stroke-linecap="round"/>
<path d="M184,1233.80 L808.00,1232.80" fill="none" stroke="#9DF52C" stroke-width="4.6" stroke-linecap="round"/>
<path d="M184.00,1235.05 C186.00,1235.09 192.00,1235.19 196.00,1235.26 C200.00,1235.33 204.00,1235.33 208.00,1235.48 C212.00,1235.62 216.33,1235.90 220.00,1236.14 C223.67,1236.39 227.00,1236.60 230.00,1236.94 C233.00,1237.29 235.50,1237.76 238.00,1238.23 C240.50,1238.70 242.83,1239.18 245.00,1239.75 C247.17,1240.32 249.17,1240.94 251.00,1241.64 C252.83,1242.34 254.42,1243.09 256.00,1243.94 C257.58,1244.79 259.08,1245.73 260.50,1246.72 C261.92,1247.71 263.33,1248.86 264.50,1249.88 C265.67,1250.91 266.58,1251.82 267.50,1252.87 C268.42,1253.93 269.17,1255.00 270.00,1256.20 C270.83,1257.40 271.87,1260.52 272.50,1260.06 C273.13,1259.60 273.37,1255.66 273.80,1253.46 C274.23,1251.26 274.67,1248.97 275.10,1246.85 C275.53,1244.74 275.97,1242.54 276.40,1240.78 C276.83,1239.02 277.27,1237.48 277.70,1236.29 C278.13,1235.10 278.42,1234.50 279.00,1233.65 C279.58,1232.79 280.53,1232.46 281.20,1231.16 C281.87,1229.86 282.05,1229.31 283.00,1225.86 C283.95,1222.41 285.83,1215.64 286.90,1210.45 C287.97,1205.26 288.62,1199.96 289.40,1194.72 C290.18,1189.47 290.92,1184.22 291.60,1178.98 C292.28,1173.73 292.90,1167.52 293.50,1163.24 C294.10,1158.97 294.75,1155.38 295.20,1153.31 C295.65,1151.24 295.83,1150.82 296.20,1150.82 C296.57,1150.82 296.97,1151.23 297.40,1153.30 C297.83,1155.37 298.48,1158.96 298.80,1163.24 C299.12,1167.51 299.20,1173.72 299.30,1178.97 C299.40,1184.21 299.37,1189.46 299.40,1194.70 C299.43,1199.94 299.32,1205.24 299.50,1210.43 C299.68,1215.62 299.85,1221.97 300.50,1225.83 C301.15,1229.69 302.42,1232.31 303.40,1233.61 C304.38,1234.90 305.07,1233.61 306.40,1233.60 C307.73,1233.60 310.57,1233.60 311.40,1233.60" fill="none" stroke="#9DF52C" stroke-width="4.6" stroke-linejoin="round" stroke-linecap="round"/>
<path d="M184,1376.80 L852.60,1376.00" fill="none" stroke="#3568A8" stroke-width="4.6" stroke-linecap="round"/>
<path d="M184.00,1378.40 C186.00,1378.42 192.00,1378.46 196.00,1378.56 C200.00,1378.65 204.00,1378.78 208.00,1378.96 C212.00,1379.13 216.33,1379.31 220.00,1379.60 C223.67,1379.90 227.00,1380.34 230.00,1380.73 C233.00,1381.11 235.50,1381.45 238.00,1381.91 C240.50,1382.38 242.83,1382.93 245.00,1383.50 C247.17,1384.06 249.17,1384.64 251.00,1385.30 C252.83,1385.96 254.42,1386.68 256.00,1387.46 C257.58,1388.24 259.08,1389.11 260.50,1390.00 C261.92,1390.89 263.33,1391.92 264.50,1392.81 C265.67,1393.70 266.58,1394.47 267.50,1395.36 C268.42,1396.25 269.03,1396.96 270.00,1398.13 C270.97,1399.30 272.53,1402.75 273.30,1402.39 C274.07,1402.03 274.17,1398.11 274.60,1395.97 C275.03,1393.82 275.47,1391.60 275.90,1389.54 C276.33,1387.48 276.77,1385.34 277.20,1383.63 C277.63,1381.91 278.07,1380.41 278.50,1379.26 C278.93,1378.10 279.28,1377.67 279.80,1376.69 C280.32,1375.70 280.88,1375.00 281.60,1373.32 C282.32,1371.64 283.05,1369.81 284.10,1366.59 C285.15,1363.36 286.87,1358.74 287.90,1353.97 C288.93,1349.20 289.53,1343.45 290.30,1337.99 C291.07,1332.52 291.85,1326.63 292.50,1321.16 C293.15,1315.70 293.67,1309.39 294.20,1305.18 C294.73,1300.98 295.30,1298.03 295.70,1295.93 C296.10,1293.83 296.27,1292.57 296.60,1292.57 C296.93,1292.56 297.28,1293.83 297.70,1295.93 C298.12,1298.03 298.79,1300.97 299.10,1305.18 C299.41,1309.38 299.46,1315.69 299.55,1321.16 C299.64,1326.62 299.60,1332.51 299.65,1337.98 C299.70,1343.44 299.64,1348.91 299.85,1353.95 C300.06,1359.00 300.31,1364.47 300.90,1368.25 C301.49,1372.03 302.87,1375.21 303.40,1376.66 C303.93,1378.11 303.40,1376.82 304.10,1376.96 C304.80,1377.09 306.18,1377.25 307.60,1377.45 C309.02,1377.65 311.10,1377.88 312.60,1378.15 C314.10,1378.41 315.27,1378.93 316.60,1379.04 C317.93,1379.16 319.27,1379.04 320.60,1378.84 C321.93,1378.63 322.93,1378.13 324.60,1377.83 C326.27,1377.53 328.27,1377.23 330.60,1377.02 C332.93,1376.82 335.93,1376.68 338.60,1376.62 C341.27,1376.55 345.27,1376.61 346.60,1376.61" fill="none" stroke="#3568A8" stroke-width="4.6" stroke-linejoin="round" stroke-linecap="round"/>
<path d="M184,1519.30 L850.00,1518.20" fill="none" stroke="#C81018" stroke-width="4.6" stroke-linecap="round"/>
<path d="M184.00,1522.47 C186.00,1522.53 192.00,1522.70 196.00,1522.84 C200.00,1522.98 204.00,1523.04 208.00,1523.30 C212.00,1523.56 216.33,1524.01 220.00,1524.40 C223.67,1524.79 227.00,1525.19 230.00,1525.66 C233.00,1526.13 235.50,1526.66 238.00,1527.22 C240.50,1527.78 242.83,1528.33 245.00,1529.02 C247.17,1529.71 249.17,1530.56 251.00,1531.36 C252.83,1532.17 254.42,1532.98 256.00,1533.83 C257.58,1534.67 259.08,1535.51 260.50,1536.42 C261.92,1537.33 263.33,1538.36 264.50,1539.28 C265.67,1540.21 266.58,1541.06 267.50,1541.98 C268.42,1542.90 269.03,1543.65 270.00,1544.79 C270.97,1545.94 272.53,1549.41 273.30,1548.85 C274.07,1548.29 274.17,1543.90 274.60,1541.43 C275.03,1538.95 275.47,1536.37 275.90,1534.00 C276.33,1531.62 276.77,1529.15 277.20,1527.17 C277.63,1525.18 278.07,1523.45 278.50,1522.11 C278.93,1520.78 279.38,1520.18 279.80,1519.14 C280.22,1518.10 279.98,1518.06 281.00,1515.89 C282.02,1513.72 284.75,1509.12 285.90,1506.14 C287.05,1503.16 287.33,1500.72 287.90,1498.02 C288.47,1495.31 288.90,1492.60 289.30,1489.89 C289.70,1487.19 289.95,1484.48 290.30,1481.77 C290.65,1479.07 291.05,1476.36 291.40,1473.65 C291.75,1470.94 292.10,1468.24 292.40,1465.53 C292.70,1462.82 292.93,1460.11 293.20,1457.41 C293.47,1454.70 293.67,1451.99 294.00,1449.29 C294.33,1446.58 294.87,1443.06 295.20,1441.16 C295.53,1439.27 295.70,1437.92 296.00,1437.92 C296.30,1437.91 296.60,1439.27 297.00,1441.16 C297.40,1443.06 298.13,1446.57 298.40,1449.28 C298.67,1451.99 298.53,1454.69 298.60,1457.40 C298.67,1460.11 298.77,1462.81 298.80,1465.52 C298.83,1468.23 298.78,1470.93 298.80,1473.64 C298.82,1476.35 298.87,1479.05 298.90,1481.76 C298.93,1484.46 298.95,1487.17 299.00,1489.88 C299.05,1492.58 299.10,1495.29 299.20,1498.00 C299.30,1500.70 299.38,1503.41 299.60,1506.12 C299.82,1508.82 299.82,1512.70 300.50,1514.24 C301.18,1515.77 302.53,1514.56 303.70,1515.30 C304.87,1516.05 306.02,1517.73 307.50,1518.70 C308.98,1519.66 310.80,1520.37 312.60,1521.09 C314.40,1521.80 316.22,1522.01 318.30,1522.98 C320.38,1523.94 323.22,1526.49 325.10,1526.87 C326.98,1527.25 328.32,1526.06 329.60,1525.26 C330.88,1524.46 331.73,1522.86 332.80,1522.05 C333.87,1521.25 334.47,1520.90 336.00,1520.45 C337.53,1520.00 339.50,1519.58 342.00,1519.34 C344.50,1519.10 349.50,1519.08 351.00,1519.02" fill="none" stroke="#C81018" stroke-width="4.6" stroke-linejoin="round" stroke-linecap="round"/>
<path d="M748.00,1518.40 C749.00,1518.17 752.47,1517.98 754.00,1517.00 C755.53,1516.02 756.28,1513.00 757.20,1512.50 C758.12,1512.00 758.83,1512.50 759.50,1514.00 C760.17,1515.50 760.62,1520.92 761.20,1521.50 C761.78,1522.08 762.45,1519.75 763.00,1517.50 C763.55,1515.25 763.87,1510.83 764.50,1508.00 C765.13,1505.17 766.05,1500.83 766.80,1500.50 C767.55,1500.17 768.30,1503.50 769.00,1506.00 C769.70,1508.50 770.25,1513.47 771.00,1515.50 C771.75,1517.53 772.00,1517.73 773.50,1518.20 C775.00,1518.67 778.92,1518.28 780.00,1518.30" fill="none" stroke="#C81018" stroke-width="4.6" stroke-linejoin="round" stroke-linecap="round"/>
<path d="M800.00,1518.00 C803.33,1517.83 813.23,1517.60 820.00,1517.00 C826.77,1516.40 833.82,1515.48 840.60,1514.40 C847.38,1513.32 854.00,1512.20 860.70,1510.50 C867.40,1508.80 875.92,1505.90 880.80,1504.20 C885.68,1502.50 887.55,1501.35 890.00,1500.30 C892.45,1499.25 893.78,1498.43 895.50,1497.90 C897.22,1497.37 899.50,1497.23 900.30,1497.10 L900.30,1497.10 C899.97,1497.78 899.35,1499.92 898.30,1501.20 C897.25,1502.48 895.88,1503.57 894.00,1504.80 C892.12,1506.03 890.17,1507.30 887.00,1508.60 C883.83,1509.90 879.38,1511.40 875.00,1512.60 C870.62,1513.80 866.53,1514.92 860.70,1515.80 C854.87,1516.68 846.78,1517.50 840.00,1517.90 C833.22,1518.30 823.33,1518.15 820.00,1518.20" fill="none" stroke="#C81018" stroke-width="4.6" stroke-linejoin="round" stroke-linecap="round"/>
</svg>
</body></html>
